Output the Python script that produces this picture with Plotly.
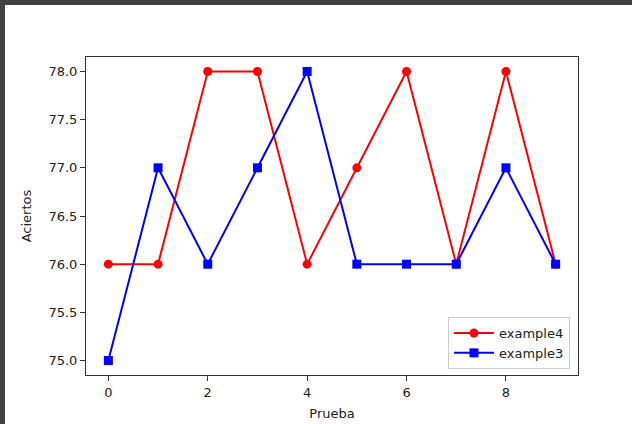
import plotly.graph_objects as go

pruebas = list(range(10))
example4 = [76, 76, 78, 78, 76, 77, 78, 76, 78, 76]
example3 = [75, 77, 76, 77, 78, 76, 76, 76, 77, 76]
x_ticks = [0, 2, 4, 6, 8]
y_ticks = [75.0, 75.5, 76.0, 76.5, 77.0, 77.5, 78.0]

W, H = 632, 424
L, R, T, B = 86, 54, 57, 49
pw, ph = W - L - R, H - T - B

fig = go.Figure()
fig.add_trace(go.Scatter(x=pruebas, y=example4, mode="lines+markers", name="example4",
                         line=dict(color="#ff0000", width=2),
                         marker=dict(symbol="circle", size=9, color="#ff0000")))
fig.add_trace(go.Scatter(x=pruebas, y=example3, mode="lines+markers", name="example3",
                         line=dict(color="#0000ff", width=2),
                         marker=dict(symbol="square", size=9, color="#0000ff")))

font = dict(family="DejaVu Sans", size=13, color="#222222")
axis_common = dict(showgrid=False, zeroline=False, showline=True, mirror=True, automargin=False,
                   linecolor="#333333", linewidth=1, ticks="outside", ticklen=5,
                   tickcolor="#333333", tickwidth=1, tickfont=font)
fig.update_xaxes(range=[-0.45, 9.45], tickvals=x_ticks, ticktext=[str(v) for v in x_ticks],
                 title=dict(text="Prueba", font=font, standoff=10), **axis_common)
fig.update_yaxes(range=[74.85, 78.15], tickvals=y_ticks, ticktext=[f"{v:.1f}" for v in y_ticks],
                 title=dict(text="Aciertos", font=font, standoff=13), **axis_common)

# dark screenshot border on top and left: dark page, white canvas inset
bx = lambda px: (px - L) / pw
by = lambda py: 1 - (py - T) / ph
fig.add_shape(type="rect", xref="paper", yref="paper", x0=bx(5), x1=bx(W + 10), y0=by(H + 10), y1=by(5),
              fillcolor="white", line=dict(width=0), layer="below")

fig.update_layout(width=W, height=H, margin=dict(l=L, r=R, t=T, b=B, autoexpand=False),
                  paper_bgcolor="#404040", plot_bgcolor="white", font=font,
                  legend=dict(x=bx(570), y=by(369), xanchor="right", yanchor="bottom",
                              bgcolor="rgba(255,255,255,0.8)", bordercolor="#cccccc", borderwidth=1,
                              font=dict(family="DejaVu Sans", size=13, color="#222222"),
                              tracegroupgap=0, itemwidth=40))
fig.write_html("out.html")
